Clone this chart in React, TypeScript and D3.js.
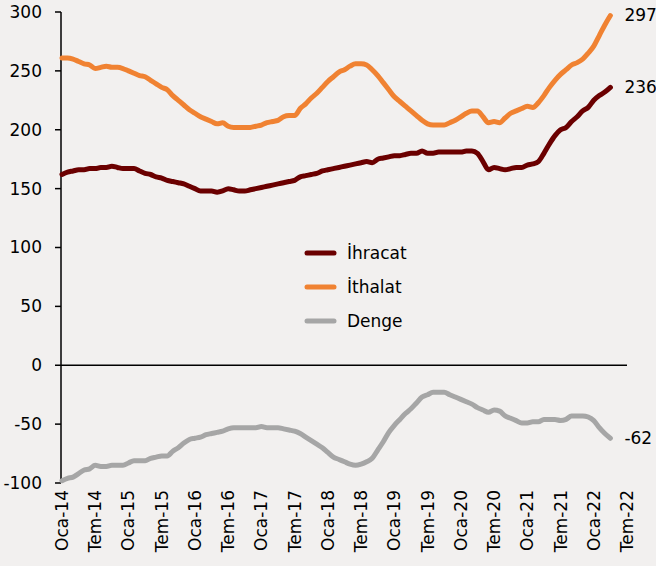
import React from "react";
import * as d3 from "d3";

const START_YEAR = 2014;
const tickLabels = ["Oca-14","Tem-14","Oca-15","Tem-15","Oca-16","Tem-16","Oca-17","Tem-17","Oca-18","Tem-18","Oca-19","Tem-19","Oca-20","Tem-20","Oca-21","Tem-21","Oca-22","Tem-22"];
const yTicks = [-100, -50, 0, 50, 100, 150, 200, 250, 300];

const ithalat = [261,261,260,258,256,255,252,253,254,253,253,252,250,248,246,245,242,239,236,234,229,225,221,217,214,211,209,207,205,206,203,202,202,202,202,203,204,206,207,208,211,212,212,218,222,227,231,236,241,245,249,251,254,256,256,255,251,246,240,234,228,224,220,216,212,208,205,204,204,204,206,208,211,214,216,216,211,206,207,206,210,214,216,218,220,219,223,229,236,242,247,251,255,257,260,265,271,280,289,297];
const ihracat = [162,164,165,166,166,167,167,168,168,169,168,167,167,167,165,163,162,160,159,157,156,155,154,152,150,148,148,148,147,148,150,149,148,148,149,150,151,152,153,154,155,156,157,160,161,162,163,165,166,167,168,169,170,171,172,173,172,175,176,177,178,178,179,180,180,182,180,180,181,181,181,181,181,182,182,180,173,166,168,167,166,167,168,168,170,171,173,180,188,195,200,202,207,211,216,219,225,229,232,236];
const denge = [-98,-96,-95,-92,-89,-88,-85,-86,-86,-85,-85,-85,-83,-81,-81,-81,-79,-78,-77,-77,-73,-70,-66,-63,-62,-61,-59,-58,-57,-56,-54,-53,-53,-53,-53,-53,-52,-53,-53,-53,-54,-55,-56,-58,-61,-64,-67,-70,-74,-78,-80,-82,-84,-85,-84,-82,-79,-72,-65,-57,-51,-46,-41,-37,-32,-27,-25,-23,-23,-23,-25,-27,-29,-31,-33,-36,-38,-40,-38,-39,-43,-45,-47,-49,-49,-48,-48,-46,-46,-46,-47,-46,-43,-43,-43,-44,-47,-53,-58,-62];

const seriesNames = ["İhracat", "İthalat", "Denge"];
const seriesColors = ["#6B0000", "#F08232", "#A6A6A6"];
const endLabels = ["236", "297", "-62"];

export default function App() {
  const W = 656, H = 566;
  const x = d3.scaleLinear().domain([0, 102]).range([62, 627]);
  const y = d3.scaleLinear().domain([-100, 300]).range([483, 12]);
  const font = "'DejaVu Sans', sans-serif";
  const all = [ihracat, ithalat, denge];
  const line = d3.line<number>().x((_, i) => x(i)).y((d) => y(d)).curve(d3.curveMonotoneX);
  return (
    <svg width={W} height={H} style={{ position: "absolute", left: 0, top: 0 }} fontFamily={font}>
      <rect width={W} height={H} fill="#F2F0EF" />
      {/* y axis */}
      <line x1={61} x2={61} y1={y(300)} y2={y(-100)} stroke="#000" strokeWidth={1.5} />
      {yTicks.map((t) => (
        <g key={t}>
          <line x1={55} x2={61} y1={y(t)} y2={y(t)} stroke="#000" strokeWidth={1.5} />
          <text x={42} y={y(t)} dy="0.35em" textAnchor="end" fontSize={17} fill="#000">{t}</text>
        </g>
      ))}
      <line x1={61} x2={x(102)} y1={y(0)} y2={y(0)} stroke="#000" strokeWidth={1.5} />
      {tickLabels.map((l, i) => (
        <text key={l} transform={`translate(${x(i * 6) + 6},${490}) rotate(-90)`} textAnchor="end" fontSize={17} fill="#000">{l}</text>
      ))}
      {all.map((s, k) => (
        <path key={k} d={line(s) || ""} fill="none" stroke={seriesColors[k]} strokeWidth={5} strokeLinejoin="round" strokeLinecap="round" />
      ))}
      {all.map((s, k) => (
        <text key={"e" + k} x={x(s.length - 1) + 14} y={y(s[s.length - 1])} dy="0.35em" fontSize={17} fill="#000">{endLabels[k]}</text>
      ))}
      {seriesNames.map((n, k) => (
        <g key={n}>
          <line x1={307} x2={334} y1={253 + k * 34} y2={253 + k * 34} stroke={seriesColors[k]} strokeWidth={5} strokeLinecap="round" />
          <text x={347} y={253 + k * 34} dy="0.35em" fontSize={17} fill="#000">{n}</text>
        </g>
      ))}
    </svg>
  );
}
